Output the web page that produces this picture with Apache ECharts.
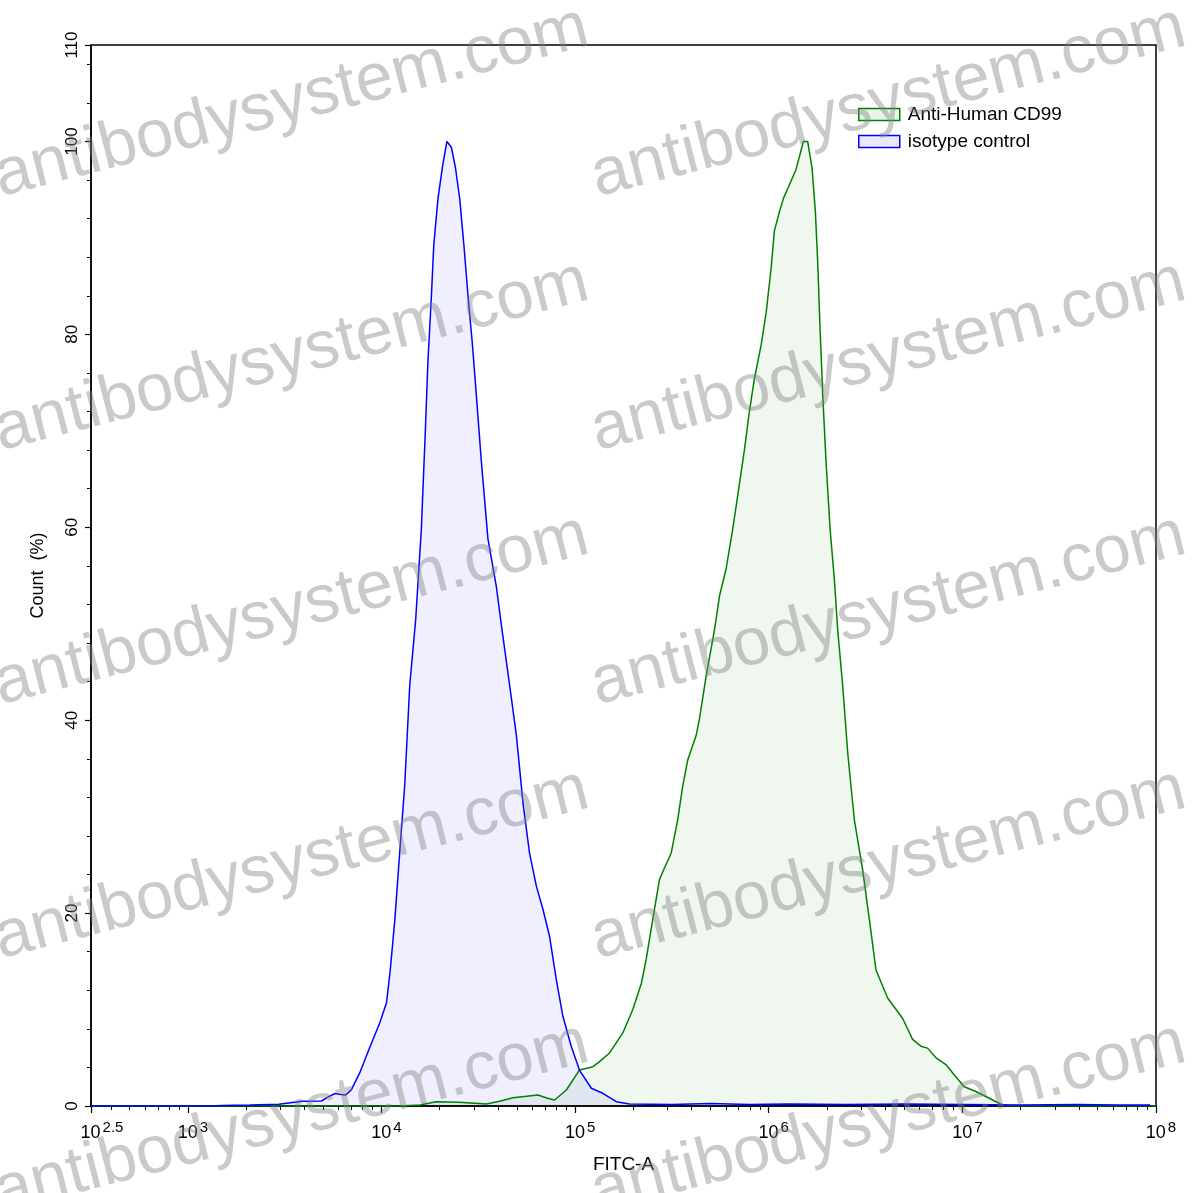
<!DOCTYPE html>
<html>
<head>
<meta charset="utf-8">
<script src="https://cdn.jsdelivr.net/npm/echarts@6/dist/echarts.min.js"></script>
<style>
html,body{margin:0;padding:0;background:#fff;}
#chart{width:1197px;height:1193px;}
</style>
</head>
<body>
<div id="chart"></div>
<script>
// x values are log10(FITC-A); y values are Count (%)
const seriesNames = ['Anti-Human CD99', 'isotype control'];
const cd99Log = [2.5,4.09,4.2,4.282,4.399,4.542,4.61,4.679,4.75,4.808,4.858,4.894,4.955,5.023,5.092,5.126,5.178,5.247,5.298,5.342,5.367,5.41,5.436,5.462,5.496,5.53,5.556,5.582,5.625,5.642,5.677,5.72,5.746,5.78,5.814,5.84,5.875,5.9,5.926,5.961,5.987,6.012,6.029,6.055,6.076,6.098,6.141,6.179,6.201,6.224,6.241,6.253,6.265,6.279,6.296,6.317,6.339,6.356,6.382,6.408,6.442,6.485,6.52,6.554,6.614,6.691,6.743,6.786,6.82,6.864,6.915,6.967,7.01,7.07,7.139,7.207,7.25,8];
const cd99Count = [0,0,0.1,0.45,0.38,0.2,0.5,0.86,1.0,1.14,0.8,0.62,1.66,3.74,4.08,4.6,5.5,7.6,10.0,12.7,15.2,20.4,23.5,24.7,26.2,29.7,33.2,35.9,38.4,40.1,44.6,49.4,52.9,55.7,59.8,63.3,68.1,72.0,75.4,78.9,82.3,86.8,90.7,92.7,94.1,95.1,97.1,100,100,97.2,92.7,87.5,80.6,73.7,66.8,59.8,54.6,49.4,43.6,36.6,29.7,24.5,19.3,14.1,11.2,9.1,6.9,6.2,6.0,5.0,4.3,3.0,2.0,1.5,0.8,0.1,0,0];
const isoLog = [2.5,3.1,3.18,3.32,3.47,3.59,3.69,3.73,3.76,3.79,3.815,3.845,3.887,3.94,3.991,4.026,4.045,4.069,4.094,4.12,4.146,4.177,4.206,4.227,4.24,4.258,4.27,4.292,4.316,4.338,4.345,4.361,4.382,4.404,4.426,4.447,4.47,4.49,4.516,4.55,4.593,4.619,4.662,4.697,4.731,4.765,4.8,4.834,4.868,4.903,4.937,4.98,5.023,5.084,5.143,5.213,5.281,5.5,5.7,5.9,6.1,6.4,6.7,7.0,7.3,7.6,7.8,7.97];
const isoCount = [0,0,0.05,0.1,0.18,0.49,0.52,1.0,1.3,1.2,1.14,1.7,3.4,6.1,8.6,10.7,14,19.3,26.2,33.2,43.6,50.5,59.8,70.2,77.2,84.0,89.2,94.1,97.5,100,99.9,99.4,97.3,94.1,89.2,84.0,78.9,73.7,66.8,58.8,53.9,49.9,43.6,38.4,31.4,26.2,22.8,20.4,17.6,13.1,9.3,6.2,3.7,1.84,1.32,0.45,0.2,0.15,0.25,0.15,0.2,0.15,0.2,0.15,0.1,0.15,0.1,0.1];
const xMajorTicks = [2.5,3,4,5,6,7,8];
const yMajorTicks = [0,20,40,60,80,100,110];
const watermarkText = 'antibodysystem.com';

const zip = (a, b) => a.map((v, i) => [v, b[i]]);
const xMinorTicks = [];
for (let d = 2; d <= 7; d++) {
  for (let k = 2; k <= 9; k++) {
    const v = d + Math.log10(k);
    if (v > 2.5 && v < 8) xMinorTicks.push(v);
  }
}
const yMinorTicks = [];
for (let v = 4; v < 110; v += 4) if (v % 20 !== 0) yMinorTicks.push(v);

const FONT = 'Liberation Sans, Arial, sans-serif';
const GREEN = '#008000', BLUE = '#0000ff';
const GREEN_FILL = 'rgba(0,128,0,0.09)', BLUE_FILL = 'rgba(0,0,255,0.09)';

const wmGraphics = [];
const wmRows = [211, 465, 719, 973, 1227];
const wmCols = [4, 601];
wmCols.forEach(cx => wmRows.forEach(ry => {
  wmGraphics.push({
    type: 'text', x: cx, y: ry, rotation: 14.4 * Math.PI / 180, z: 100, silent: true,
    style: { text: watermarkText, font: '67px ' + FONT, fill: 'rgba(128,128,128,0.42)', textAlign: 'left', textVerticalAlign: 'bottom' }
  });
}));

const chart = echarts.init(document.getElementById('chart'), null, { renderer: 'canvas' });
chart.setOption({
  animation: false,
  backgroundColor: '#fff',
  grid: { left: 91, right: 41, top: 45, bottom: 87, show: true, borderColor: '#000', borderWidth: 1.5, backgroundColor: 'transparent' },
  legend: {
    orient: 'vertical', left: 853, top: 100, icon: 'rect', itemWidth: 41, itemHeight: 12, itemGap: 8,
    textStyle: { fontFamily: FONT, fontSize: 19, color: '#000', padding: [0, 0, 0, 3] },
    data: [
      { name: seriesNames[0], itemStyle: { color: GREEN_FILL, borderColor: GREEN, borderWidth: 1.5 } },
      { name: seriesNames[1], itemStyle: { color: BLUE_FILL, borderColor: BLUE, borderWidth: 1.5 } }
    ]
  },
  xAxis: [{
    type: 'value', min: 2.5, max: 8, position: 'bottom',
    name: 'FITC-A', nameLocation: 'middle', nameGap: 49,
    nameTextStyle: { fontFamily: FONT, fontSize: 19, color: '#000' },
    axisLine: { show: true, lineStyle: { color: '#000', width: 1.5 } },
    axisTick: { show: true, inside: false, length: 7, lineStyle: { color: '#000', width: 1.2 }, customValues: xMajorTicks },
    splitLine: { show: false },
    axisLabel: {
      customValues: xMajorTicks, margin: 14, color: '#000',
      formatter: v => {
        const e = String(Math.round(v * 10) / 10);
        return '{' + (e.length > 1 ? 'pw' : 'pn') + '|}{b|10}{s|' + e + '}';
      },
      rich: {
        pw: { width: 22, lineHeight: 22 },
        pn: { width: 10, lineHeight: 22 },
        b: { fontFamily: FONT, fontSize: 18, color: '#000', verticalAlign: 'bottom', lineHeight: 22 },
        s: { fontFamily: FONT, fontSize: 15, color: '#000', verticalAlign: 'top', padding: [0, 0, 0, 2], lineHeight: 15 }
      }
    }
  }, {
    type: 'value', min: 2.5, max: 8, position: 'bottom',
    axisLine: { show: false }, splitLine: { show: false }, axisLabel: { show: false },
    axisTick: { show: true, length: 4, lineStyle: { color: '#000', width: 1 }, customValues: xMinorTicks }
  }],
  yAxis: [{
    type: 'value', min: 0, max: 110, position: 'left',
    name: 'Count  (%)', nameLocation: 'middle', nameGap: 44, nameRotate: 90,
    nameTextStyle: { fontFamily: FONT, fontSize: 18, color: '#000' },
    axisLine: { show: true, lineStyle: { color: '#000', width: 1.5 } },
    axisTick: { show: true, length: 6, lineStyle: { color: '#000', width: 1.2 }, customValues: yMajorTicks },
    splitLine: { show: false },
    axisLabel: { customValues: yMajorTicks, rotate: 90, margin: 10, fontFamily: FONT, fontSize: 17, color: '#000' }
  }, {
    type: 'value', min: 0, max: 110, position: 'left',
    axisLine: { show: false }, splitLine: { show: false }, axisLabel: { show: false },
    axisTick: { show: true, length: 4, lineStyle: { color: '#000', width: 1 }, customValues: yMinorTicks }
  }],
  series: [{
    name: seriesNames[0], type: 'line', xAxisIndex: 0, yAxisIndex: 0,
    data: zip(cd99Log, cd99Count), showSymbol: false, symbol: 'none', smooth: false,
    lineStyle: { color: GREEN, width: 1.5 }, itemStyle: { color: GREEN },
    areaStyle: { color: GREEN_FILL, origin: 'start' }
  }, {
    name: seriesNames[1], type: 'line', xAxisIndex: 0, yAxisIndex: 0,
    data: zip(isoLog, isoCount), showSymbol: false, symbol: 'none', smooth: false,
    lineStyle: { color: BLUE, width: 1.5 }, itemStyle: { color: BLUE },
    areaStyle: { color: BLUE_FILL, origin: 'start' }
  }],
  graphic: wmGraphics
});
</script>
</body>
</html>
